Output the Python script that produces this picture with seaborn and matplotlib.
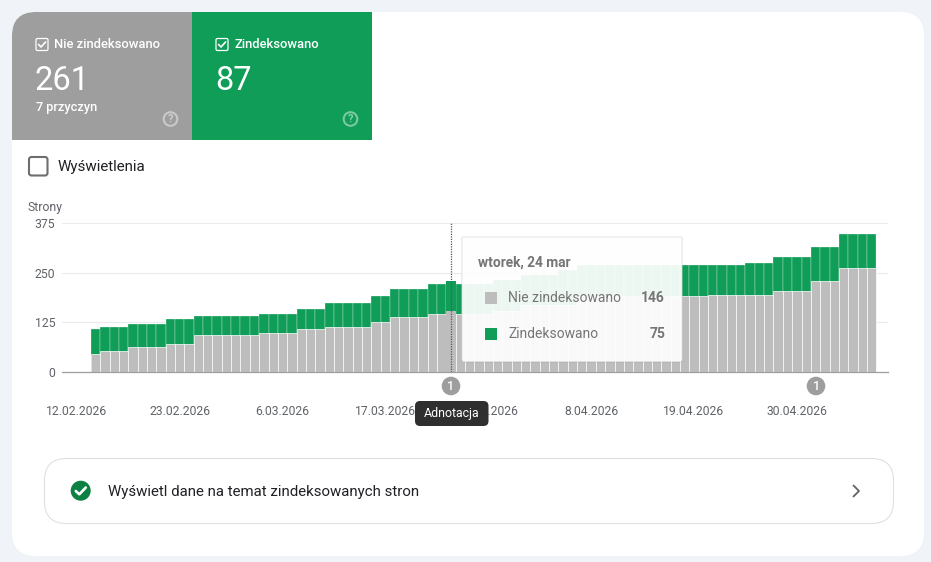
import pandas as pd
import matplotlib
matplotlib.use("Agg")
import matplotlib.pyplot as plt
from matplotlib.patches import FancyBboxPatch, Rectangle, Circle
import seaborn as sns

# --- data ---
first_day = "2026-02-12"
n_days = 86
first_bar_day = 2

nie_zindeksowano = [
    45, 54, 54, 54, 63, 63, 63, 63, 71, 71, 71, 93, 93, 93, 93, 93, 93, 93, 99, 99, 99,
    99, 108, 108, 108, 113, 113, 113, 113, 113, 127, 127, 138, 138, 138, 138, 146, 146,
    146, 146, 146, 146, 146, 154, 154, 154, 168, 168, 168, 168, 168, 168, 192, 192, 192,
    192, 192, 192, 192, 192, 192, 192, 192, 192, 192, 192, 194, 194, 194, 194, 194, 194,
    194, 204, 204, 204, 204, 229, 229, 229, 261, 261, 261, 261,
]
zindeksowano = [
    63, 60, 60, 60, 59, 59, 59, 59, 63, 63, 63, 49, 49, 49, 49, 49, 49, 49, 48, 48, 48,
    48, 51, 51, 51, 61, 61, 61, 61, 61, 65, 65, 72, 72, 72, 72, 75, 75,
    75, 75, 75, 75, 75, 77, 77, 77, 76, 76, 76, 76, 88, 88, 77, 77, 77,
    77, 77, 77, 77, 77, 77, 77, 77, 77, 77, 77, 76, 76, 76, 76, 81, 81,
    81, 86, 86, 86, 86, 86, 86, 86, 87, 87, 87, 87,
]
y_ticks = [0, 125, 250, 375]
x_tick_days = [0, 11, 22, 33, 44, 55, 66, 77]
x_tick_labels = ["12.02.2026", "23.02.2026", "6.03.2026", "17.03.2026",
                 "28.03.2026", "8.04.2026", "19.04.2026", "30.04.2026"]
hover_day = "2026-03-24"
hover_gray = 153
hover_total = 228

GREEN = "#0F9D58"
GRAY = "#BDBDBD"
TILE_GRAY = "#9E9E9E"
BG = "#F0F4F9"
TXT = "#5F6368"
TIP = "#757575"

sns.set_theme(style="white")
plt.rcParams["font.family"] = ["Roboto", "DejaVu Sans"]

days = pd.date_range(first_day, periods=n_days).strftime("%Y-%m-%d").tolist()
df = pd.DataFrame({
    "day": days[first_bar_day:first_bar_day + len(nie_zindeksowano)],
    "gray": nie_zindeksowano,
    "green": zindeksowano,
})
df["total"] = df["gray"] + df["green"]

W, H = 931, 562
fig = plt.figure(figsize=(W / 100, H / 100), dpi=100, facecolor=BG)


def px_axes(z):
    a = fig.add_axes([0, 0, 1, 1], zorder=z)
    a.set_xlim(0, W)
    a.set_ylim(H, 0)
    a.axis("off")
    return a


def rbox(a, x0, y0, x1, y1, r, **kw):
    p = FancyBboxPatch((x0 + r, y0 + r), x1 - x0 - 2 * r, y1 - y0 - 2 * r,
                       boxstyle=f"round,pad={r},rounding_size={r}", **kw)
    a.add_patch(p)
    return p


# --- card, tiles ---
bg = px_axes(0)
card = rbox(bg, 12, 12, 924, 556, 24, fc="white", ec="none")
for x0, col in [(12, TILE_GRAY), (192, GREEN)]:
    t = Rectangle((x0, 12), 180, 128, fc=col, ec="none")
    bg.add_patch(t)
    t.set_clip_path(card)


def tile(x, label, number, help_x, col):
    rbox(bg, x, 38.5, x + 12, 50.5, 1.5, fc="none", ec="white", lw=0.9)
    bg.plot([x + 2.6, x + 5, x + 9.6], [44.5, 47, 42], color="white", lw=1.2)
    bg.text(x + 18.5, 44.3, label, color="white", fontsize=9.4, weight=500, va="center")
    bg.text(x - 1.2, 80.5, number, color="white", fontsize=23.5, va="center")
    bg.add_patch(Circle((help_x, 119), 6.8, fc="none", ec="white", lw=1.5, alpha=0.45))
    bg.text(help_x, 119.3, "?", color="white", alpha=0.5, fontsize=8, weight="bold",
            ha="center", va="center")


tile(36, "Nie zindeksowano", "261", 170.5, TILE_GRAY)
tile(216, "Zindeksowano", "87", 350.5, GREEN)
bg.text(36, 108, "7 przyczyn", color="white", fontsize=9.2, weight=500, va="center")

rbox(bg, 29, 157, 47.5, 175.5, 2.5, fc="white", ec="#6E6E6E", lw=1.5)
bg.text(58, 166.5, "Wyświetlenia", color="#202124", fontsize=10.9, va="center")
bg.text(28, 207, "Strony", color=TXT, fontsize=8.8, va="center")

# --- chart ---
ax = fig.add_axes([62 / W, 1 - 372 / H, 826 / W, 149 / H], zorder=1)
ax.patch.set_alpha(0)
sns.barplot(data=df, x="day", y="total", order=days, color=GREEN, width=1.0, saturation=1,
            edgecolor="white", linewidth=0.2, errorbar=None, ax=ax)
sns.barplot(data=df, x="day", y="gray", order=days, color=GRAY, width=1.0, saturation=1,
            edgecolor="white", linewidth=0.5, errorbar=None, ax=ax)

# hovered day stands a little taller
hov = pd.DataFrame({"day": [hover_day], "gray": [hover_gray], "total": [hover_total]})
sns.barplot(data=hov, x="day", y="total", order=days, color=GREEN, width=1.0, saturation=1,
            edgecolor="none", errorbar=None, ax=ax)
sns.barplot(data=hov, x="day", y="gray", order=days, color=GRAY, width=1.0, saturation=1,
            edgecolor="none", errorbar=None, ax=ax)

ax.set_xlim(-1.59, 86.75)
ax.set_ylim(0, 375)
ax.set_xlabel("")
ax.set_ylabel("")
ax.set_yticks(y_ticks)
ax.set_xticks(x_tick_days, x_tick_labels)
ax.tick_params(axis="x", length=0, pad=23.5, labelsize=8.7, labelcolor=TXT)
ax.tick_params(axis="y", length=0, pad=4.8, labelsize=8.8, labelcolor=TXT)
ax.grid(axis="y", color="#EBEBEB", lw=0.8)
ax.set_axisbelow(True)
for s in ["top", "left", "right"]:
    ax.spines[s].set_visible(False)
ax.spines["bottom"].set_color("#9E9E9E")
ax.spines["bottom"].set_linewidth(0.9)
hover_pos = days.index(hover_day)
ax.axvline(hover_pos, color="#555555", lw=0.9, ls=(0, (1, 1)), zorder=5)

# --- overlays ---
top = px_axes(2)
for cx in [451, 816]:
    top.add_patch(Circle((cx, 386), 9.3, fc="#9E9E9E", ec="none"))
    top.text(cx, 386, "1", color="white", fontsize=9, weight=500, ha="center", va="center")

rbox(top, 415, 401, 488.5, 426, 5, fc="#2F2F2F", ec="none", zorder=4)
top.text(451.7, 413.5, "Adnotacja", color="white", fontsize=8.9, ha="center", va="center", zorder=5)

rbox(top, 461, 236.5, 683, 362.5, 2, fc="#000000", ec="none", alpha=0.05)
rbox(top, 462, 237, 682, 361.5, 2, fc="white", ec="#E4E4E4", lw=0.6, alpha=0.93)
top.text(478, 262.3, "wtorek, 24 mar", color=TIP, fontsize=9.9, weight="bold", va="center")
tip_rows = [("Nie zindeksowano", "146", 298, GRAY), ("Zindeksowano", "75", 334, GREEN)]
for name, val, y, col in tip_rows:
    top.add_patch(Rectangle((485, y - 6), 12, 12, fc=col, ec="none"))
    top.text(508, y + 0.5, name, color=TIP, fontsize=10, va="center")
    top.text(665, y + 0.5, val, color=TIP, fontsize=10, weight="bold", ha="right", va="center")

# --- bottom link row ---
rbox(top, 44.5, 458.5, 893.5, 523.5, 22, fc="none", ec="#E0E0E0", lw=0.8)
top.add_patch(Circle((80.7, 490.7), 10, fc="#0D8043", ec="none"))
top.plot([75.8, 79.3, 85.8], [491, 494.3, 487.5], color="white", lw=1.9)
top.text(108.5, 491.6, "Wyświetl dane na temat zindeksowanych stron", color="#202124",
         fontsize=10.83, va="center")
top.plot([853.5, 859, 853.5], [485.5, 491, 496.5], color=TXT, lw=1.3)

fig.savefig("out.png", dpi=100, facecolor=BG)
